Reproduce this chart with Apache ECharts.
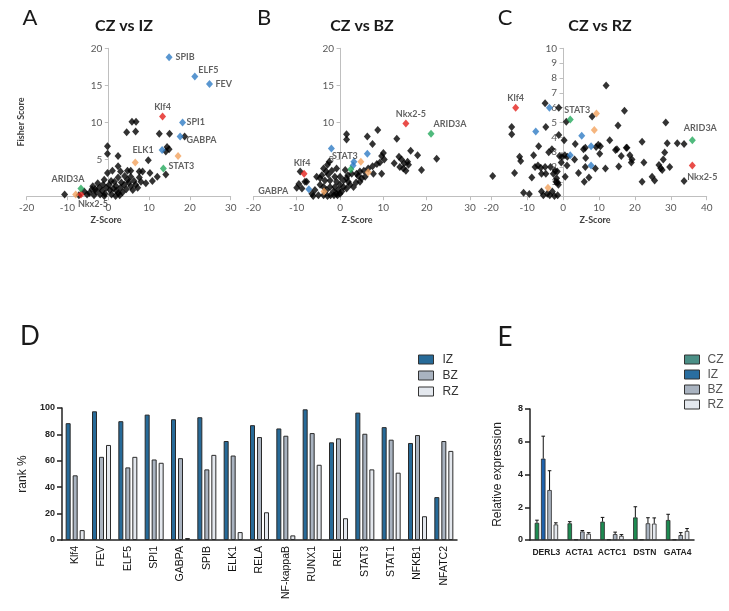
<!DOCTYPE html>
<html><head><meta charset="utf-8">
<script src="https://cdn.jsdelivr.net/npm/echarts@6/dist/echarts.min.js"></script>
<style>html,body{margin:0;padding:0;background:#fff}#c{width:729px;height:611px}</style>
</head><body><div id="c"></div>
<script>
// ================= DATA =================
// Panel A: CZ vs IZ  [Z-Score, Fisher Score]
const A_black = [[5.8,10.1],[6.8,10.1],[4.5,8.7],[6.7,8.8],[12.5,8.5],[15.0,8.5],[18.7,8.1],
 [-0.2,6.8],[-0.2,5.8],[2.4,5.5],[14.4,6.7],[14.9,6.4],[14.1,6.1],[9.8,4.9],
 [2.4,4.1],[4.7,3.5],[5.5,3.5],[7.6,3.4],[8.4,3.4],[10.8,2.1],[12.0,2.7],[14.1,3.0],[10.2,3.2],[9.2,1.8],
 [2.4,2.6],[5.5,2.7],[7.6,2.6],[-0.2,3.2],[6.3,2.1],[4.7,2.3],[3.9,1.6],[1.9,1.4],[0.7,2.1],[-1.0,2.3],
 [-1.3,1.6],[-2.2,1.2],[-3.8,1.4],[-3.0,0.7],[-4.6,0.5],[-5.9,0.7],[0.4,0.9],[1.2,1.1],[2.0,0.8],[3.0,1.2],
 [4.4,1.0],[5.5,1.4],[6.7,1.6],[-0.8,0.4],[0.8,0.3],[2.5,0.5],[3.5,0.6],[-2.0,0.3],[-1.5,0.8],[0.2,1.6],
 [1.5,2.0],[3.2,1.9],[4.0,2.8],[5.0,1.9],[-0.5,1.2],[2.8,0.2],[-3.5,0.2],[-4.0,1.0],[-2.6,1.8],[6.0,0.9],
 [7.2,1.2],[8.0,2.0],[1.0,3.5],[3.0,3.4],[-5.2,0.3],[-7.2,0.2],[-1.0,0.1],[1.8,0.1],[-10.7,0.3],[-3.2,1.0]];
const A_blue = [[14.9,18.8],[21.2,16.2],[24.8,15.2],[18.2,10.0],[17.6,8.1],[13.2,6.3]];
const A_blueNames = ['SPIB','ELF5','FEV','SPI1','GABPA','ELK1'];
const A_red = [[13.3,10.8],[-6.7,0.3]];
const A_redNames = ['Klf4','Nkx2-5'];
const A_green = [[13.5,3.8],[-6.7,1.1]];
const A_greenNames = ['STAT3','ARID3A'];
const A_orange = [[17.1,5.5],[6.6,4.6],[-8.0,0.3]];

// Panel B: CZ vs BZ
const B_black = [[1.5,8.4],[1.5,7.7],[8.7,9.0],[6.3,8.1],[7.5,7.1],[13.1,7.8],[16.3,6.2],[17.9,5.6],[22.3,5.1],[18.8,3.6],
 [10.0,5.9],[9.6,5.5],[10.2,5.0],[9.2,4.6],[8.5,4.4],[7.5,4.1],[6.5,3.8],[5.5,3.5],
 [13.6,5.4],[14.2,5.0],[14.8,4.5],[15.6,4.7],[13.8,4.0],[14.6,3.8],[15.8,4.3],[15.2,3.5],[12.5,4.5],
 [4.6,3.4],[3.8,3.1],[4.2,2.8],[9.6,3.1],[7.7,3.1],[5.8,2.7],[5.0,2.5],[4.6,2.0],
 [-2.9,4.3],[-3.8,3.8],[-3.2,3.4],[-2.7,3.0],[-1.9,3.5],[-4.2,2.9],[-4.6,2.5],[-5.4,2.7],[-3.5,2.2],[-2.3,2.2],
 [-1.2,2.7],[-0.8,2.0],[0,2.7],[0.8,2.2],[1.5,2.5],[1.9,2.0],[2.3,1.6],[0,1.6],[-1.2,1.3],[-2.3,1.3],
 [-3.1,0.9],[-1.5,0.7],[-0.4,0.9],[0.4,0.7],[1.5,1.1],[-3.8,1.3],[-4.6,1.6],[-5.8,0.9],[-6.5,0.4],[-6.2,0.1],
 [-5.0,0.2],[-3.8,0.2],[-2.9,0.1],[-2.2,0.2],[-1.4,0.2],[-0.6,0.2],[0,0.4],[-7.7,2.0],[-9.5,1.7],
 [1.8,2.9],[2.7,3.1],[1.2,3.6],[-0.8,3.8],[-2.5,4.7],[3.1,1.3],[3.7,1.9],[0.8,1.3],[-0.8,0.4],
 [-9.2,3.4],[-10.0,1.2],[-8.8,1.1],[-8.1,2.0]];
const B_blue = [[-2.0,6.5],[6.3,5.8],[3.2,4.7],[3.0,4.2],[-7.2,1.0]];
const B_blueNames = ['','','','','GABPA'];
const B_red = [[15.2,9.85],[-8.3,3.1]];
const B_redNames = ['Nkx2-5','Klf4'];
const B_green = [[21.0,8.5],[2.5,3.7]];
const B_greenNames = ['ARID3A','STAT3'];
const B_orange = [[4.8,4.7],[6.5,3.3],[-3.7,0.7]];

// Panel C: CZ vs RZ
const C_black = [[12.0,7.5],[-5.0,6.3],[-1.2,6.0],[17.1,5.8],[8.1,5.4],[28.6,5.0],[-14.3,4.7],[-14.3,4.2],[-4.8,4.7],
 [0.9,5.05],[15.3,4.8],[-1.2,4.15],[0.3,3.8],[13.0,3.8],[22.0,3.7],[29.0,3.6],[31.8,3.6],[33.7,3.55],[3.4,3.55],
 [6.2,3.3],[5.7,3.2],[9.8,3.5],[9.2,3.35],[10.4,3.4],[-6.8,3.4],[-3.1,3.2],[-12.1,2.7],[-11.8,2.4],[-8.2,2.8],
 [-4.0,3.0],[-1.0,2.75],[-0.3,2.7],[0.5,2.8],[1.2,2.7],[3.2,2.5],[6.3,2.6],[10.2,2.9],[15.0,3.2],[17.8,3.3],
 [16.2,2.75],[18.6,2.8],[19.2,2.5],[19.0,2.3],[15.5,2.03],[22.5,2.3],[28.3,2.98],[27.9,2.5],[26.7,2.14],[27.2,1.92],
 [27.6,1.8],[29.7,2.0],[24.8,1.35],[25.5,1.1],[22.0,1.0],[33.7,1.05],[-19.6,1.4],[-13.5,1.6],[-7.8,2.0],[-7.0,2.1],
 [-6.2,1.95],[-8.7,1.3],[-6.0,1.55],[-4.8,1.55],[-2.7,1.55],[-2.2,1.75],[-1.6,1.7],[-1.8,1.25],[-2.0,1.0],[-1.3,0.8],
 [-3.5,2.0],[-5.0,2.0],[1.1,2.1],[0.6,1.35],[4.3,1.6],[5.9,1.0],[6.2,2.0],[9.0,1.9],[11.8,1.9],[-11.0,0.27],
 [-9.4,0.18],[-6.0,0.35],[-5.5,0.1],[-3.7,0.1],[-2.4,0.05],[-1.5,0.1],[-3.0,0.35],[-4.4,0.2],[-1.5,0.95],[7.2,1.3],
 [-0.5,2.3],[17.6,3.3],[14.6,3.15]];
const C_blue = [[-3.8,6.0],[-7.6,4.4],[5.2,4.1],[7.8,3.4],[2.0,2.8],[7.8,2.1]];
const C_blueNames = ['','','','','',''];
const C_red = [[-13.2,6.0],[36.0,2.1]];
const C_redNames = ['Klf4','Nkx2-5'];
const C_green = [[2.0,5.2],[36.0,3.8]];
const C_greenNames = ['STAT3','ARID3A'];
const C_orange = [[9.3,5.6],[8.7,4.5],[-4.2,0.6]];

const scatterXTicksC = [-20,-10,0,10,20,30,40];

// Panel D: rank %
const categoriesD = ['Klf4','FEV','ELF5','SPI1','GABPA','SPIB','ELK1','RELA','NF-kappaB','RUNX1','REL','STAT3','STAT1','NFKB1','NFATC2'];
const D_IZ = [88.5,97.5,90,95,91.5,93,75,87,84.5,99,74,96.5,85.5,73.5,32.5];
const D_BZ = [49,63,55,61,62,53.5,64,78,79,81,77,80.5,76,79.5,75];
const D_RZ = [7.5,72,63,58.5,1.5,64.5,6,21,3.5,57,16.5,53.5,51,18,67.5];

// Panel E: Relative expression (mean, error)
const categoriesE = ['DERL3','ACTA1','ACTC1','DSTN','GATA4'];
const E_CZ = [1.05,1.02,1.12,1.38,1.22];
const E_CZ_err = [0.16,0.1,0.26,0.65,0.35];
const E_IZ = [4.97,0.04,0.04,0.04,0.04];
const E_IZ_err = [1.37,0,0,0,0];
const E_BZ = [3.05,0.52,0.36,1.02,0.3];
const E_BZ_err = [1.18,0.06,0.12,0.34,0.15];
const E_RZ = [0.95,0.38,0.25,1.0,0.55];
const E_RZ_err = [0.1,0.07,0.08,0.35,0.15];

// ================= STYLES =================
const COL = {black:'#000000', blue:'#2f7cc4', red:'#e3201c', green:'#24a95c', orange:'#f2a35e'};
const labelStyle = {
  A: {SPIB:{position:'right',distance:3}, ELF5:{position:'right',distance:0,offset:[0,-6]}, FEV:{position:'right',distance:2.5},
      SPI1:{position:'right',distance:0.5}, GABPA:{position:'right',distance:3,offset:[0,3]}, ELK1:{position:'left',distance:5},
      Klf4:{position:'top',distance:1}, STAT3:{position:'right',distance:1.5,offset:[0,-2]},
      ARID3A:{position:'top',distance:1,offset:[-13,0]}, 'Nkx2-5':{position:'bottom',distance:1,offset:[12,0]}},
  B: {'Nkx2-5':{position:'top',distance:1.5,offset:[5,0]}, ARID3A:{position:'top',distance:1.5,offset:[19,0]},
      STAT3:{position:'top',distance:5,offset:[-6,0]}, Klf4:{position:'top',distance:2,offset:[-2,0]},
      GABPA:{position:'left',distance:17,offset:[0,2]}},
  C: {Klf4:{position:'top',distance:1}, STAT3:{position:'top',distance:0.5,offset:[7,0]},
      ARID3A:{position:'top',distance:3.5,offset:[8,0]}, 'Nkx2-5':{position:'bottom',distance:3,offset:[10,0]}}
};
const LBL_FONT = 'Lato, "Open Sans", sans-serif';
const ARIAL = '"Liberation Sans", Arial, sans-serif';

const grids = [
  {left:26.7, top:48.3, width:204, height:148.4},
  {left:253.4, top:48.3, width:216.6, height:148.4},
  {left:469.7, top:48.3, width:237, height:148.4},
  {left:62, top:408, width:395, height:132},
  {left:530, top:409, width:164, height:131}
];

const scatterAxisCommon = {
  axisLine:{onZero:false, lineStyle:{color:'#bfbfbf', width:1}},
  axisTick:{show:true, length:3.5, lineStyle:{color:'#bfbfbf'}},
  axisLabel:{color:'#595959', fontSize:10, fontFamily:LBL_FONT, margin:6},
  splitLine:{show:false}
};
function sx(extra){ return Object.assign({type:'value'}, JSON.parse(JSON.stringify(scatterAxisCommon)), extra); }

const xAxes = [
  sx({gridIndex:0, min:-20, max:30, interval:10}),
  sx({gridIndex:1, min:-20, max:30, interval:10}),
  (function(){ const a = sx({gridIndex:2, min:-26, max:40});
     a.axisLabel.customValues = scatterXTicksC; a.axisTick.customValues = scatterXTicksC; return a; })(),
  {type:'category', gridIndex:3, data:categoriesD,
   axisLine:{lineStyle:{color:'#222', width:1.5}}, axisTick:{show:false},
   axisLabel:{rotate:90, interval:0, fontSize:10.5, color:'#111', fontFamily:ARIAL, margin:6}},
  {type:'category', gridIndex:4, data:categoriesE,
   axisLine:{lineStyle:{color:'#222', width:1.5}}, axisTick:{show:false},
   axisLabel:{interval:0, fontSize:8.5, fontWeight:'bold', color:'#222', fontFamily:ARIAL, margin:8}}
];
const yfmt = v => v === 0 ? '' : String(v);
const yAxes = [
  (function(){ const a = sx({gridIndex:0, min:0, max:20, interval:5}); a.axisLabel.formatter = yfmt; return a; })(),
  (function(){ const a = sx({gridIndex:1, min:0, max:20, interval:5}); a.axisLabel.formatter = yfmt; return a; })(),
  (function(){ const a = sx({gridIndex:2, min:0, max:10, interval:1}); a.axisLabel.formatter = yfmt; return a; })(),
  {type:'value', gridIndex:3, min:0, max:100, interval:20, name:'rank %', nameLocation:'middle', nameGap:31,
   nameTextStyle:{fontSize:12, color:'#222', fontFamily:ARIAL},
   axisLine:{show:true, lineStyle:{color:'#222', width:1.5}}, axisTick:{show:true, length:5, lineStyle:{color:'#222', width:1.5}},
   axisLabel:{fontSize:9, fontWeight:'bold', color:'#222', fontFamily:ARIAL, margin:7}, splitLine:{show:false}},
  {type:'value', gridIndex:4, min:0, max:8, interval:2, name:'Relative expression', nameLocation:'middle', nameGap:26,
   nameTextStyle:{fontSize:12, color:'#222', fontFamily:ARIAL},
   axisLine:{show:true, lineStyle:{color:'#222', width:1.5}}, axisTick:{show:true, length:5, lineStyle:{color:'#222', width:1.5}},
   axisLabel:{fontSize:9, fontWeight:'bold', color:'#222', fontFamily:ARIAL, margin:7}, splitLine:{show:false}}
];

const series = [];
function addScatter(panel, idx, pts, color, names){
  series.push({
    type:'scatter', name: panel + '-' + color, xAxisIndex:idx, yAxisIndex:idx,
    symbol:'diamond', symbolSize:[7,8], itemStyle:{color:COL[color]}, z: color === 'black' ? 2 : 3,
    data: pts.map((p,i) => {
      const nm = names ? names[i] : '';
      const item = {value:p, name:nm};
      const ls = nm && labelStyle[panel][nm];
      if (ls) item.label = Object.assign({show:true, formatter:'{b}', fontSize:9, fontWeight:'bold', color:'#3a3a3a', fontFamily:LBL_FONT}, ls);
      return item;
    }),
    label:{show:false}
  });
}
addScatter('A',0,A_black,'black'); addScatter('A',0,A_orange,'orange');
addScatter('A',0,A_blue,'blue',A_blueNames); addScatter('A',0,A_red,'red',A_redNames); addScatter('A',0,A_green,'green',A_greenNames);
addScatter('B',1,B_black,'black'); addScatter('B',1,B_orange,'orange');
addScatter('B',1,B_blue,'blue',B_blueNames); addScatter('B',1,B_red,'red',B_redNames); addScatter('B',1,B_green,'green',B_greenNames);
addScatter('C',2,C_black,'black'); addScatter('C',2,C_orange,'orange');
addScatter('C',2,C_blue,'blue',C_blueNames); addScatter('C',2,C_red,'red',C_redNames); addScatter('C',2,C_green,'green',C_greenNames);

const D_COL = {IZ:'#276a98', BZ:'#a9b3c0', RZ:'#e4e8ee'};
const E_COL = {CZ:'#1e8b52', IZ:'#1f62ac', BZ:'#a9b3c0', RZ:'#e4e8ee'};
const BORDER = '#2a2a2a';
[['IZ',D_IZ],['BZ',D_BZ],['RZ',D_RZ]].forEach(([n,arr]) => series.push({
  type:'bar', name:n, xAxisIndex:3, yAxisIndex:3, data:arr, barWidth:5, barGap:'40%',
  itemStyle:{color:D_COL[n], borderColor:BORDER, borderWidth:1}
}));
const E_BW = 4.5, E_GAP = 0.4;
const eGroups = [['CZ',E_CZ,E_CZ_err],['IZ',E_IZ,E_IZ_err],['BZ',E_BZ,E_BZ_err],['RZ',E_RZ,E_RZ_err]];
eGroups.forEach(([n,arr]) => series.push({
  type:'bar', name:n, xAxisIndex:4, yAxisIndex:4, data:arr, barWidth:E_BW, barGap:(E_GAP*100)+'%',
  itemStyle:{color:E_COL[n], borderColor:BORDER, borderWidth:0.8}
}));
eGroups.forEach(([n,arr,err],gi) => {
  const off = (gi - (eGroups.length-1)/2) * E_BW * (1+E_GAP);
  series.push({
    type:'custom', name:n+'-err', xAxisIndex:4, yAxisIndex:4, z:5,
    data: arr.map((v,i) => [i, v, err[i]]),
    renderItem: (params, api) => {
      const i = api.value(0), v = api.value(1), e = api.value(2);
      if (!e) return null;
      const b = api.coord([i, v]), t = api.coord([i, v + e]);
      const x = b[0] + off;
      const st = {stroke:'#111', lineWidth:1};
      return {type:'group', children:[
        {type:'line', shape:{x1:x, y1:b[1], x2:x, y2:t[1]}, style:st},
        {type:'line', shape:{x1:x-1.8, y1:t[1], x2:x+1.8, y2:t[1]}, style:st}
      ]};
    }
  });
});

function legendItem(n, col){ return {name:n, icon:'rect', itemStyle:{color:col, borderColor:'#333', borderWidth:1}}; }
const legends = [
  {orient:'vertical', left:418, top:353.5, itemWidth:15, itemHeight:9, itemGap:4, padding:0,
   textStyle:{fontSize:12, lineHeight:12, color:'#333', fontFamily:ARIAL, padding:[0,0,0,4]},
   data:['IZ','BZ','RZ'].map(n => legendItem(n, D_COL[n])), selectedMode:false},
  {orient:'vertical', left:684, top:353.5, itemWidth:15, itemHeight:9, itemGap:3, padding:0,
   textStyle:{fontSize:12, lineHeight:12, color:'#555', fontFamily:ARIAL, padding:[0,0,0,3]},
   data:[legendItem('CZ','#4b8f86'), legendItem('IZ','#2a6ea0'), legendItem('BZ',D_COL.BZ), legendItem('RZ',D_COL.RZ)], selectedMode:false}
];

function txt(text, x, y, font, extra){
  return Object.assign({type:'text', x:x, y:y, style:{text:text, font:font, fill:'#1a1a1a', textAlign:'center', textVerticalAlign:'middle'}}, extra||{});
}
const graphics = [
  txt('A', 30, 18, '22px ' + LBL_FONT),
  txt('B', 264, 18, '22px ' + LBL_FONT),
  txt('C', 505, 18, '22px ' + LBL_FONT),
  txt('D', 30, 337, '26px ' + LBL_FONT),
  txt('E', 505, 338, '26px ' + LBL_FONT),
  txt('CZ vs IZ', 124, 26, 'bold 16px ' + LBL_FONT),
  txt('CZ vs BZ', 362, 26, 'bold 16px ' + LBL_FONT),
  txt('CZ vs RZ', 600, 26, 'bold 16px ' + LBL_FONT),
  txt('Z-Score', 106, 220, 'bold 9px ' + LBL_FONT),
  txt('Z-Score', 357, 220, 'bold 9px ' + LBL_FONT),
  txt('Z-Score', 595, 220, 'bold 9px ' + LBL_FONT),
  txt('Fisher Score', 20.7, 122, 'bold 9px ' + LBL_FONT, {rotation:Math.PI/2})
];
graphics.forEach(g => { if (g.style.text.indexOf('Score') >= 0) g.style.fill = '#404040'; });

const chart = echarts.init(document.getElementById('c'), null, {renderer:'canvas'});
chart.setOption({
  backgroundColor:'#ffffff', animation:false,
  grid:grids, xAxis:xAxes, yAxis:yAxes, legend:legends, series:series, graphic:graphics
});
// place the scatter y-axes (line, ticks, labels) at Z-Score = 0, like the reference
const yOffsets = [0,1,2].map(i => ({offset: -(chart.convertToPixel({xAxisIndex:i}, 0) - grids[i].left)}));
chart.setOption({yAxis: yOffsets});
</script></body></html>
